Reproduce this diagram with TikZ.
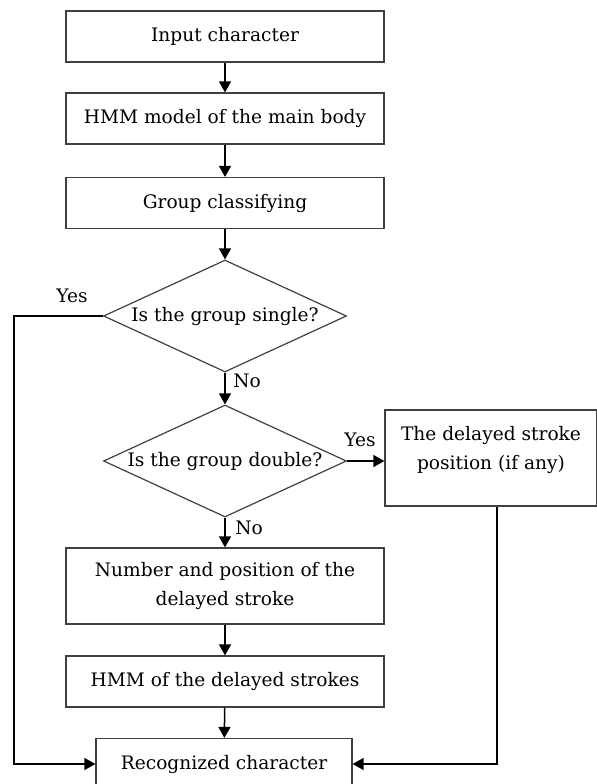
\documentclass[tikz,border=0pt]{standalone}
\usepackage{fontspec}
\setmainfont{DejaVu Serif}
\usetikzlibrary{shapes.geometric,arrows.meta}

\begin{document}
\begin{tikzpicture}[x=0.5pt,y=-0.5pt,
    every node/.style={font=\fontsize{9.3}{14.5}\selectfont},
    stepbox/.style={draw=black!75,line width=0.6pt,minimum width=159pt,minimum height=25.5pt,align=center,inner sep=2pt},
    ask/.style={draw=black!75,line width=0.6pt,diamond,aspect=2.17,minimum width=121.5pt,minimum height=56pt,inner sep=0pt},
    arr/.style={-{Triangle[length=5.5pt,width=6pt]},line width=0.75pt}]
    \useasboundingbox (0,0) rectangle (597,784);

    % main column
    \node[stepbox] (input) at (225,36.5) {Input character};
    \node[stepbox] (mainhmm) at (225,118.5) {HMM model of the main body};
    \node[stepbox] (classify) at (225,203) {Group classifying};
    \node[ask] (single) at (225,316) {Is the group single?};
    \node[ask] (double) at (225,461) {Is the group double?};
    \node[stepbox,minimum height=38pt] (number) at (225,586) {Number and position of the\\delayed stroke};
    \node[stepbox] (delhmm) at (225,681.5) {HMM of the delayed strokes};
    \node[stepbox,minimum width=128pt] (recog) at (224,764) {Recognized character};

    % side box
    \node[stepbox,minimum width=106pt,minimum height=48pt,text depth=10pt] (delayed) at (491,458) {The delayed stroke\\position (if any)};

    % answers
    \node (yessingle) at (72,296) {Yes};
    \node (nosingle) at (247,381) {No};
    \node (yesdouble) at (360,440) {Yes};
    \node (nodouble) at (249,528) {No};

    \coordinate (leftrail) at (14,316);

    % connectors
    \draw[arr] (input) -- (mainhmm);
    \draw[arr] (mainhmm) -- (classify);
    \draw[arr] (classify) -- (single);
    \draw[arr] (single) -- (double);
    \draw[arr] (double.east) -- (double.east -| delayed.west);
    \draw[arr] (double) -- (number);
    \draw[arr] (number) -- (delhmm);
    \draw[arr] (delhmm) -- (recog);
    \draw[arr] (single.west) -- (leftrail) |- (recog.west);
    \draw[arr] ([xshift=3pt]delayed.south) |- (recog.east);
\end{tikzpicture}
\end{document}
